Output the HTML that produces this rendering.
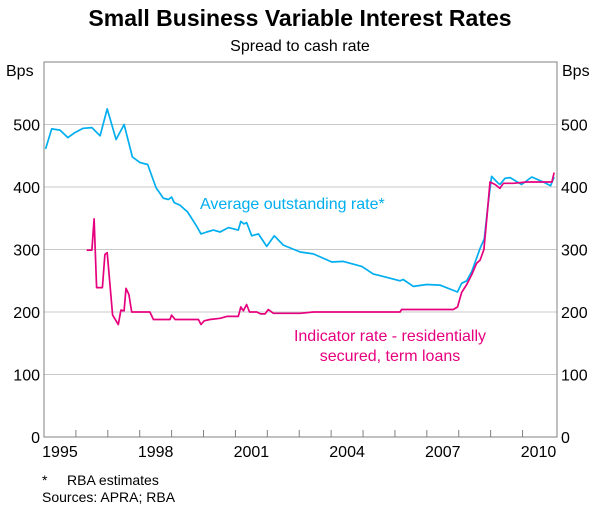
<!DOCTYPE html>
<html><head><meta charset="utf-8"><style>
body{margin:0;background:#fff;font-family:"Liberation Sans",Arial,sans-serif;}
svg text{font-family:"Liberation Sans",Arial,sans-serif;}
</style></head><body>
<svg id="chart" width="600" height="510" viewBox="0 0 600 510" xmlns="http://www.w3.org/2000/svg">
<text x="300" y="26" text-anchor="middle" font-size="23" font-weight="bold" fill="#000">Small Business Variable Interest Rates</text>
<text x="300" y="51" text-anchor="middle" font-size="16" fill="#000">Spread to cash rate</text>
<text x="6" y="76" font-size="16" fill="#000">Bps</text>
<text x="562" y="76" font-size="16" fill="#000">Bps</text>
<g id="grid"></g>
<g id="series"></g>
<rect x="44" y="62" width="513" height="375" fill="none" stroke="#808080" stroke-width="1"/>
<g id="axes"></g>
<text x="200" y="209" font-size="16" fill="#00aeef">Average outstanding rate*</text>
<text x="390" y="341" text-anchor="middle" font-size="16" fill="#e6007e">Indicator rate - residentially</text>
<text x="390" y="361" text-anchor="middle" font-size="16" fill="#e6007e">secured, term loans</text>
<text x="42" y="485" font-size="14" fill="#000">*</text>
<text x="67" y="485" font-size="14" fill="#000">RBA estimates</text>
<text x="42" y="502" font-size="14" fill="#000">Sources: APRA; RBA</text>
</svg>
<script>
const yTicks=[0,100,200,300,400,500];
const yearLabels=[1995,1998,2001,2004,2007,2010];
const avgDates=[1995.05,1995.24,1995.50,1995.75,1995.97,1996.23,1996.50,1996.76,1996.98,1997.26,1997.51,1997.77,1998.01,1998.25,1998.51,1998.74,1998.90,1999.00,1999.08,1999.26,1999.50,1999.79,1999.92,2000.10,2000.31,2000.52,2000.78,2001.09,2001.17,2001.27,2001.35,2001.51,2001.72,2001.98,2002.22,2002.50,2003.03,2003.44,2004.02,2004.38,2004.96,2005.32,2006.16,2006.26,2006.58,2007.00,2007.41,2007.96,2008.09,2008.25,2008.41,2008.67,2008.80,2008.93,2009.03,2009.24,2009.29,2009.45,2009.61,2009.97,2010.29,2010.65,2010.88,2010.99];
const avgValues=[461,493,491,479,487,494,495,482,525,476,500,448,439,436,399,382,380,384,375,371,360,337,325,328,331,328,335,331,345,341,343,322,325,305,322,307,296,293,280,281,273,261,250,252,241,244,243,232,246,250,265,302,317,377,417,406,404,414,415,404,416,408,402,416];
const indDates=[1996.34,1996.50,1996.57,1996.65,1996.83,1996.91,1996.98,1997.15,1997.33,1997.41,1997.51,1997.57,1997.66,1997.75,1998.32,1998.43,1998.95,1999.00,1999.11,1999.84,1999.92,2000.02,2000.20,2000.52,2000.73,2001.09,2001.17,2001.25,2001.35,2001.44,2001.67,2001.79,2001.93,2002.03,2002.19,2003.03,2003.44,2006.16,2006.21,2007.83,2007.96,2008.09,2008.25,2008.41,2008.56,2008.67,2008.79,2008.88,2008.98,2009.14,2009.29,2009.40,2009.71,2010.13,2010.92,2010.99];
const indValues=[299,299,349,239,239,292,295,195,180,203,202,238,228,200,200,188,188,195,188,188,180,186,188,190,193,193,208,202,212,200,200,197,197,204,198,198,200,200,204,204,208,231,244,260,278,283,300,350,408,404,398,406,406,408,408,423];

const L=44,R=557,T=62,B=437,X0=1995,X1=2011.08,YMAX=600;
const xs=v=>L+(v-X0)/(X1-X0)*(R-L);
const ys=v=>B-v/YMAX*(B-T);
const NS="http://www.w3.org/2000/svg";
function mk(tag,attrs,parent){const e=document.createElementNS(NS,tag);for(const k in attrs)e.setAttribute(k,attrs[k]);parent.appendChild(e);return e;}
const grid=document.getElementById('grid'),axes=document.getElementById('axes'),series=document.getElementById('series');
yTicks.forEach(v=>{
  if(v>0){const g=mk('line',{x1:L,x2:R,y1:ys(v),y2:ys(v),stroke:'#c8c8c8','stroke-width':1},grid);
  
  }
  const a=mk('text',{x:L-4,y:ys(v)+6,'text-anchor':'end','font-size':16,fill:'#000'},axes);a.textContent=v;
  
  
  const b=mk('text',{x:R+4,y:ys(v)+6,'font-size':16,fill:'#000'},axes);b.textContent=v;
  
  
});
for(let yr=1996;yr<=2010;yr++){
  const t=mk('line',{x1:xs(yr),x2:xs(yr),y1:B,y2:B-7,stroke:'#808080','stroke-width':1},axes);
  
  
}
yearLabels.forEach(yr=>{
  const t=mk('text',{x:xs(yr+0.5),y:B+20,'text-anchor':'middle','font-size':16,fill:'#000'},axes);t.textContent=yr;
  
  
});
function line(d,v,color,name){
  const pts=d.map((x,i)=>xs(x).toFixed(1)+','+ys(v[i]).toFixed(1)).join(' ');
  const p=mk('polyline',{points:pts,fill:'none',stroke:color,'stroke-width':1.7,'stroke-linejoin':'round'},series);
  
  
}
line(avgDates,avgValues,'#00aeef','average-outstanding-rate-line');
line(indDates,indValues,'#e6007e','indicator-rate-line');
</script>
</body></html>
